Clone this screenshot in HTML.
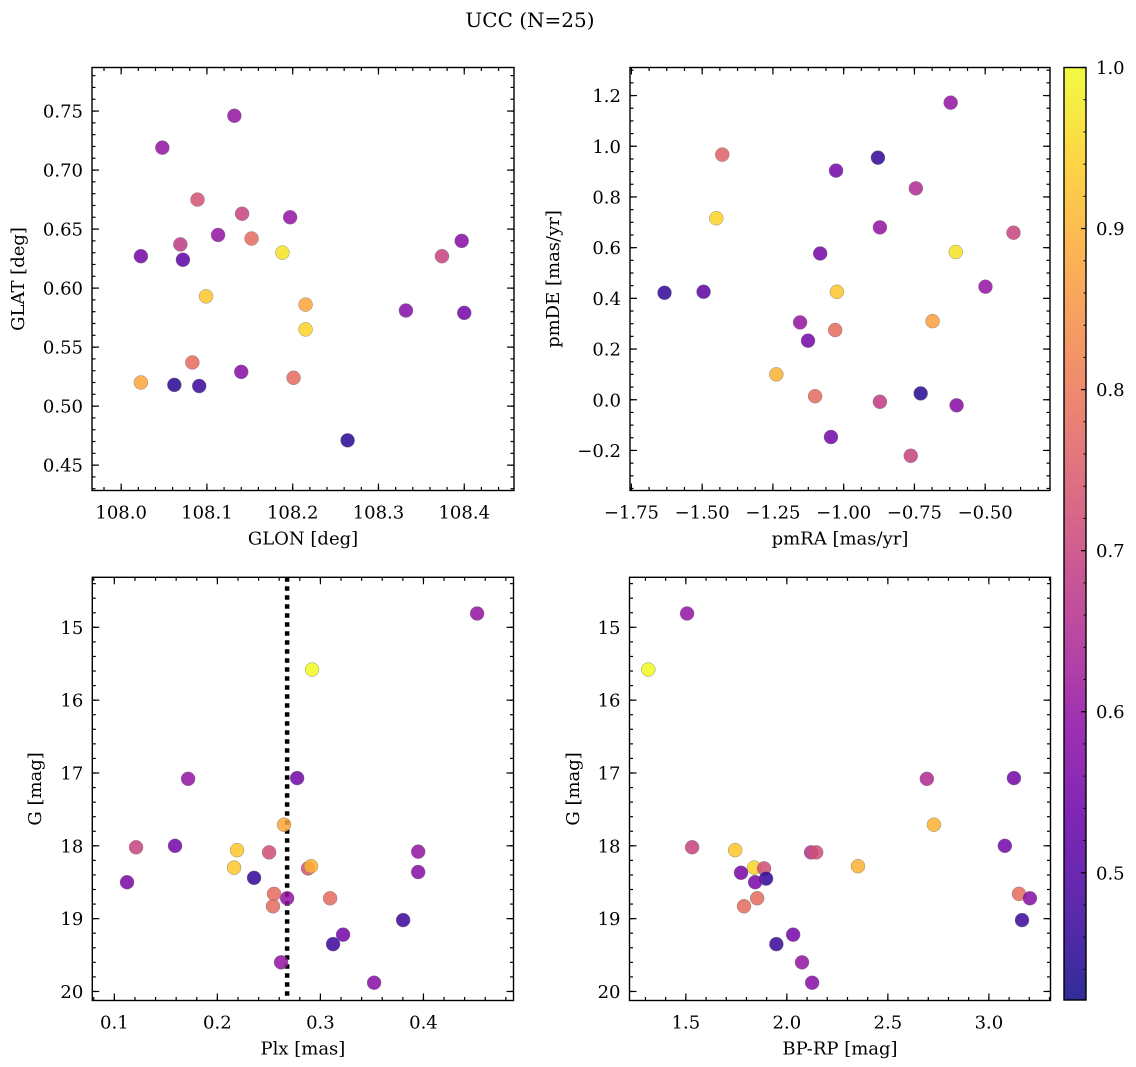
<!DOCTYPE html>
<html><head><meta charset="utf-8"><title>UCC (N=25)</title>
<style>
html,body{margin:0;padding:0;background:#fff;}
svg{display:block;font-family:"DejaVu Serif","Liberation Serif",serif;}
</style></head>
<body>
<svg id="fig" width="1136" height="1067" viewBox="0 0 1136 1067" xmlns="http://www.w3.org/2000/svg">
<text x="530" y="27" font-size="20" text-anchor="middle">UCC (N=25)</text>
</svg>
<script>
// ---- data ----
const glon = [108.048,108.132,108.089,108.141,108.197,108.113,108.152,108.069,108.023,108.072,108.188,108.397,108.374,108.099,108.215,108.215,108.332,108.400,108.083,108.201,108.140,108.023,108.062,108.091,108.264];
const glat = [0.719,0.746,0.675,0.663,0.660,0.645,0.642,0.637,0.627,0.624,0.630,0.640,0.627,0.593,0.586,0.565,0.581,0.579,0.537,0.524,0.529,0.520,0.518,0.517,0.471];
const probPos = [0.60,0.60,0.73,0.70,0.60,0.60,0.78,0.68,0.55,0.52,0.97,0.58,0.70,0.93,0.88,0.95,0.58,0.55,0.78,0.78,0.58,0.88,0.45,0.47,0.45];

const pmra = [-0.622,-1.429,-0.879,-1.027,-0.745,-1.450,-0.872,-0.400,-1.083,-0.604,-1.633,-1.495,-1.024,-0.499,-0.686,-1.154,-1.030,-1.126,-1.238,-1.101,-0.728,-0.872,-0.601,-1.045,-0.763];
const pmde = [1.172,0.967,0.955,0.904,0.834,0.716,0.680,0.659,0.577,0.583,0.422,0.426,0.426,0.446,0.310,0.305,0.275,0.233,0.100,0.014,0.025,-0.008,-0.022,-0.147,-0.221];
const probPm = [0.60,0.76,0.46,0.55,0.65,0.95,0.60,0.70,0.55,0.97,0.46,0.52,0.93,0.60,0.87,0.60,0.78,0.55,0.90,0.78,0.45,0.68,0.58,0.55,0.70];

const plx = [0.4521,0.2919,0.1716,0.2774,0.2647,0.1211,0.1589,0.2191,0.3949,0.2502,0.2162,0.2880,0.2909,0.3949,0.1123,0.2356,0.2550,0.3094,0.2677,0.2540,0.3803,0.3220,0.3123,0.2618,0.3521];
const gPlx = [14.81,15.58,17.08,17.07,17.71,18.02,18.00,18.06,18.08,18.09,18.30,18.31,18.28,18.36,18.50,18.44,18.66,18.72,18.72,18.83,19.02,19.22,19.35,19.60,19.88];
const probPlx = [0.60,1.00,0.60,0.55,0.88,0.70,0.55,0.93,0.60,0.72,0.93,0.73,0.90,0.58,0.56,0.46,0.78,0.78,0.60,0.78,0.47,0.55,0.47,0.60,0.58];
const plxLine = [0.2677];

const bprp = [1.506,1.314,2.693,3.124,2.728,1.531,1.744,3.079,2.120,2.145,2.352,1.838,1.887,1.773,1.897,1.843,3.149,1.853,3.203,1.788,3.164,2.031,1.948,2.075,2.125];
const gCmd = [14.81,15.58,17.08,17.07,17.71,18.02,18.06,18.00,18.09,18.09,18.28,18.30,18.31,18.37,18.45,18.50,18.66,18.72,18.72,18.83,19.02,19.22,19.35,19.60,19.88];
const probCmd = [0.60,1.00,0.65,0.55,0.90,0.70,0.93,0.55,0.66,0.72,0.90,0.95,0.72,0.56,0.46,0.56,0.78,0.78,0.58,0.78,0.47,0.55,0.47,0.60,0.58];

const cbarTicks = [0.5,0.6,0.7,0.8,0.9,1.0];
const cmin = 0.421, cmax = 1.0;

// ---- helpers ----
const NS = "http://www.w3.org/2000/svg";
const svg = document.getElementById('fig');
function mk(tag, attrs, parent){ const e=document.createElementNS(NS,tag); for(const k in attrs) e.setAttribute(k,attrs[k]); (parent||svg).appendChild(e); return e; }
const plasma = ["#0d0887","#41049d","#6a00a8","#8f0da4","#b12a90","#cc4778","#e16462","#f2844b","#fca636","#fcce25","#f0f921"];
function hex(h){return [parseInt(h.slice(1,3),16),parseInt(h.slice(3,5),16),parseInt(h.slice(5,7),16)];}
function cmap(v){
  let t=(v-cmin)/(cmax-cmin); t=Math.max(0,Math.min(1,t));
  const p=t*10, i=Math.min(9,Math.floor(p)), f=p-i;
  const a=hex(plasma[i]), b=hex(plasma[i+1]);
  return "rgb("+a.map((c,k)=>Math.round(c+(b[k]-c)*f)).join(",")+")";
}
function linear(d0,d1,r0,r1){ return v=>r0+(v-d0)/(d1-d0)*(r1-r0); }

function panel(cfg){
  const g = mk('g',{});
  
  
  const {x0,y0,x1,y1} = cfg;
  const sx = linear(cfg.xd[0],cfg.xd[1],x0,x1);
  const sy = linear(cfg.yd[0],cfg.yd[1],y1,y0);
  const tg = mk('g',{stroke:'#000','stroke-width':1.2},g);
  function ticksX(step,len,labels){
    const start=Math.ceil(Math.min(cfg.xd[0],cfg.xd[1])/step-1e-6);
    const end=Math.floor(Math.max(cfg.xd[0],cfg.xd[1])/step+1e-6);
    for(let k=start;k<=end;k++){
      const v=k*step, px=sx(v);
      mk('line',{x1:px,x2:px,y1:y1,y2:y1-len},tg);
      mk('line',{x1:px,x2:px,y1:y0,y2:y0+len},tg);
      if(labels){
        const t=mk('text',{x:px,y:y1+28,'font-size':18,'text-anchor':'middle',stroke:'none',fill:'#000'},g);
        
        
        t.textContent=cfg.fmtX(v);
      }
    }
  }
  function ticksY(step,len,labels){
    const lo=Math.min(cfg.yd[0],cfg.yd[1]), hi=Math.max(cfg.yd[0],cfg.yd[1]);
    const start=Math.ceil(lo/step-1e-6), end=Math.floor(hi/step+1e-6);
    for(let k=start;k<=end;k++){
      const v=k*step, py=sy(v);
      mk('line',{x1:x0,x2:x0+len,y1:py,y2:py},tg);
      mk('line',{x1:x1,x2:x1-len,y1:py,y2:py},tg);
      if(labels){
        const t=mk('text',{x:x0-9,y:py+6.5,'font-size':18,'text-anchor':'end',stroke:'none',fill:'#000'},g);
        
        
        t.textContent=cfg.fmtY(v);
      }
    }
  }
  ticksX(cfg.xMinor,3.5,false); ticksX(cfg.xMajor,7,true);
  ticksY(cfg.yMinor,3.5,false); ticksY(cfg.yMajor,7,true);
  const cid='clip-'+cfg.name;
  const cp=mk('clipPath',{id:cid},g); mk('rect',{x:x0,y:y0,width:x1-x0,height:y1-y0},cp);
  const pg=mk('g',{'clip-path':'url(#'+cid+')'},g);
  if(cfg.vline){
    cfg.vline.forEach(v=>{
      const l=mk('line',{x1:sx(v),x2:sx(v),y1:y0,y2:y1,stroke:'#000','stroke-width':4.5,'stroke-dasharray':'4.5 4.5'},pg);
      
      
    });
  }
  cfg.xs.forEach((xv,i)=>{
    const c=mk('circle',{cx:sx(xv),cy:sy(cfg.ys[i]),r:7,fill:cmap(cfg.cs[i]),'fill-opacity':0.85,stroke:'#777','stroke-width':0.4},pg);
    
    
  });
  mk('rect',{x:x0,y:y0,width:x1-x0,height:y1-y0,fill:'none',stroke:'#000','stroke-width':1.4},g);
  const xl=mk('text',{x:(x0+x1)/2,y:y1+54,'font-size':18,'text-anchor':'middle'},g);
  
  
  xl.textContent=cfg.xlabel;
  const ylx=cfg.ylx;
  const yl=mk('text',{x:ylx,y:(y0+y1)/2,'font-size':18,'text-anchor':'middle',transform:'rotate(-90 '+ylx+' '+((y0+y1)/2)+')'},g);
  
  
  yl.textContent=cfg.ylabel;
}
const f2=v=>v.toFixed(2).replace('-','\u2212'), f1=v=>v.toFixed(1).replace('-','\u2212'), f0=v=>v.toFixed(0);

panel({name:'glon-glat-panel',x0:92,y0:67.5,x1:514,y1:490.5,xd:[107.966,108.458],yd:[0.4285,0.7869],
  xMajor:0.1,xMinor:0.02,yMajor:0.05,yMinor:0.01,fmtX:f1,fmtY:f2,xs:glon,ys:glat,cs:probPos,xlabel:'GLON [deg]',ylabel:'GLAT [deg]',ylx:24});
panel({name:'pm-panel',x0:630,y0:67.5,x1:1050,y1:490.5,xd:[-1.755,-0.271],yd:[-0.358,1.3107],
  xMajor:0.25,xMinor:0.0625,yMajor:0.2,yMinor:0.05,fmtX:f2,fmtY:f1,xs:pmra,ys:pmde,cs:probPm,xlabel:'pmRA [mas/yr]',ylabel:'pmDE [mas/yr]',ylx:559});
panel({name:'plx-g-panel',x0:92.3,y0:577.3,x1:513.5,y1:1000.5,xd:[0.0786,0.4874],yd:[20.124,14.313],
  xMajor:0.1,xMinor:0.02,yMajor:1,yMinor:0.2,fmtX:f1,fmtY:f0,xs:plx,ys:gPlx,cs:probPlx,vline:plxLine,xlabel:'Plx [mas]',ylabel:'G [mag]',ylx:41});
panel({name:'cmd-panel',x0:629.5,y0:577.3,x1:1050.5,y1:1000.5,xd:[1.221,3.305],yd:[20.124,14.313],
  xMajor:0.5,xMinor:0.1,yMajor:1,yMinor:0.2,fmtX:f1,fmtY:f0,xs:bprp,ys:gCmd,cs:probCmd,xlabel:'BP-RP [mag]',ylabel:'G [mag]',ylx:579});

// colorbar
(function(){
  const cx0=1064, cx1=1086, cy0=67.5, cy1=1000;
  const g=mk('g',{});
  
  
  const defs=mk('defs',{},g);
  const lg=mk('linearGradient',{id:'cbg',x1:0,y1:1,x2:0,y2:0},defs);
  for(let i=0;i<=20;i++){ const v=cmin+(cmax-cmin)*i/20; mk('stop',{offset:(i/20),'stop-color':cmap(v)},lg); }
  mk('rect',{x:cx0,y:cy0,width:cx1-cx0,height:cy1-cy0,fill:'url(#cbg)','fill-opacity':0.85},g);
  const sy=linear(cmin,cmax,cy1,cy0);
  for(let k=Math.ceil(cmin/0.02);k<=Math.floor(cmax/0.02+1e-6);k++){
    const py=sy(k*0.02); mk('line',{x1:cx1,x2:cx1-2.5,y1:py,y2:py,stroke:'#000','stroke-width':1},g);
  }
  cbarTicks.forEach(v=>{
    const py=sy(v);
    mk('line',{x1:cx1,x2:cx1-5,y1:py,y2:py,stroke:'#000','stroke-width':1.2},g);
    const t=mk('text',{x:cx1+10,y:py+6.5,'font-size':18},g);
    
    
    t.textContent=v.toFixed(1);
  });
  mk('rect',{x:cx0,y:cy0,width:cx1-cx0,height:cy1-cy0,fill:'none',stroke:'#000','stroke-width':1.4},g);
})();
</script>
</body></html>
